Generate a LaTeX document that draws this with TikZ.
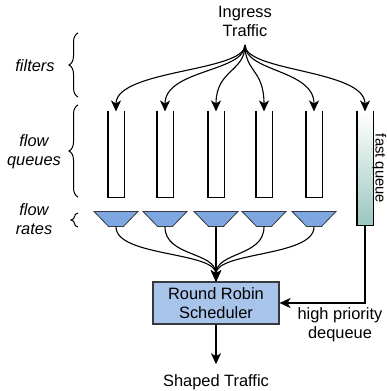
\documentclass[tikz,border=0pt]{standalone}
\usepackage{fontspec}
\setmainfont{Liberation Sans}
\usetikzlibrary{positioning, arrows.meta, shapes.geometric, decorations.pathreplacing}
\definecolor{rateblue}{HTML}{7EA6E0}
\definecolor{schedblue}{HTML}{A9C4EB}
\definecolor{fastgreen}{HTML}{9AC7BF}
\definecolor{edgegrey}{HTML}{36393D}

\begin{document}
\begin{tikzpicture}[x=1pt, y=-1pt, line width=1.1pt,
    >={Stealth[length=11pt, width=10pt, inset=3pt]},
    every node/.style={font=\fontsize{16.4}{19}\selectfont, align=center},
    queue/.style={minimum width=15pt, minimum height=85pt, inner sep=0pt},
    rate/.style={trapezium, shape border rotate=180, trapezium angle=46,
      minimum width=44pt, minimum height=14pt,
      inner sep=0.5pt, draw=edgegrey, fill=rateblue, line width=0.8pt},
    brace/.style={decorate, decoration={brace, amplitude=9pt}, line width=1pt},
    side/.style={font=\fontsize{16.4}{19}\selectfont\itshape}]
    \useasboundingbox (0,0) rectangle (386,391);

    \node (ingress) at (245,21) {Ingress\\Traffic};
    \coordinate (split) at (245,45);

    % flow queues and their rate limiters
    \foreach \x [count=\i] in {116,165,216,264,314} {
      \node[queue] (q\i) at (\x,154.5) {};
      \node[rate] (r\i) at (\x,219) {};
      \draw (q\i.north west) |- (q\i.south east) -- (q\i.north east);
    }
    \node[queue, minimum height=113pt, top color=white, bottom color=fastgreen] (fast) at (365,168.5) {};
    \draw (fast.north west) |- (fast.south east) -- (fast.north east);
    \node[rotate=-90, anchor=base, font=\fontsize{14.8}{18}\selectfont] (fastlabel) at (375.5,168.5) {fast queue};

    \node[draw=edgegrey, fill=schedblue, minimum width=126pt, minimum height=42pt,
      inner sep=0pt] (sched) at (216,303) {Round Robin\\Scheduler};
    \node[anchor=base] (shaped) at (216,386) {Shaped Traffic};
    \node (prio) at (340,325) {high priority\\dequeue};

    % filters
    \foreach \q in {q1,q2,q3,q4,q5,fast}
      \draw[->] (split) .. controls +(0,27) and +(0,-42) .. (\q.north);
    \foreach \i in {1,...,5}
      \draw[->] (r\i.south) .. controls +(0,30) and +(0,-30) .. (sched.north);
    \draw[->] (fast.south) |- (sched.east);
    \draw[->, shorten >=6pt] (sched.south) -- (shaped.north);

    % braces on the left
    \draw[brace] (78,97) -- (78,33);
    \draw[brace] (78,197) -- (78,105);
    \draw[brace, decoration={amplitude=7pt}] (78,227) -- (78,213);
    \node[side] (filters) at (35,66) {filters};
    \node[side] (queues) at (34,152) {flow\\queues};
    \node[side] (rates) at (34,219) {flow\\rates};
\end{tikzpicture}
\end{document}
